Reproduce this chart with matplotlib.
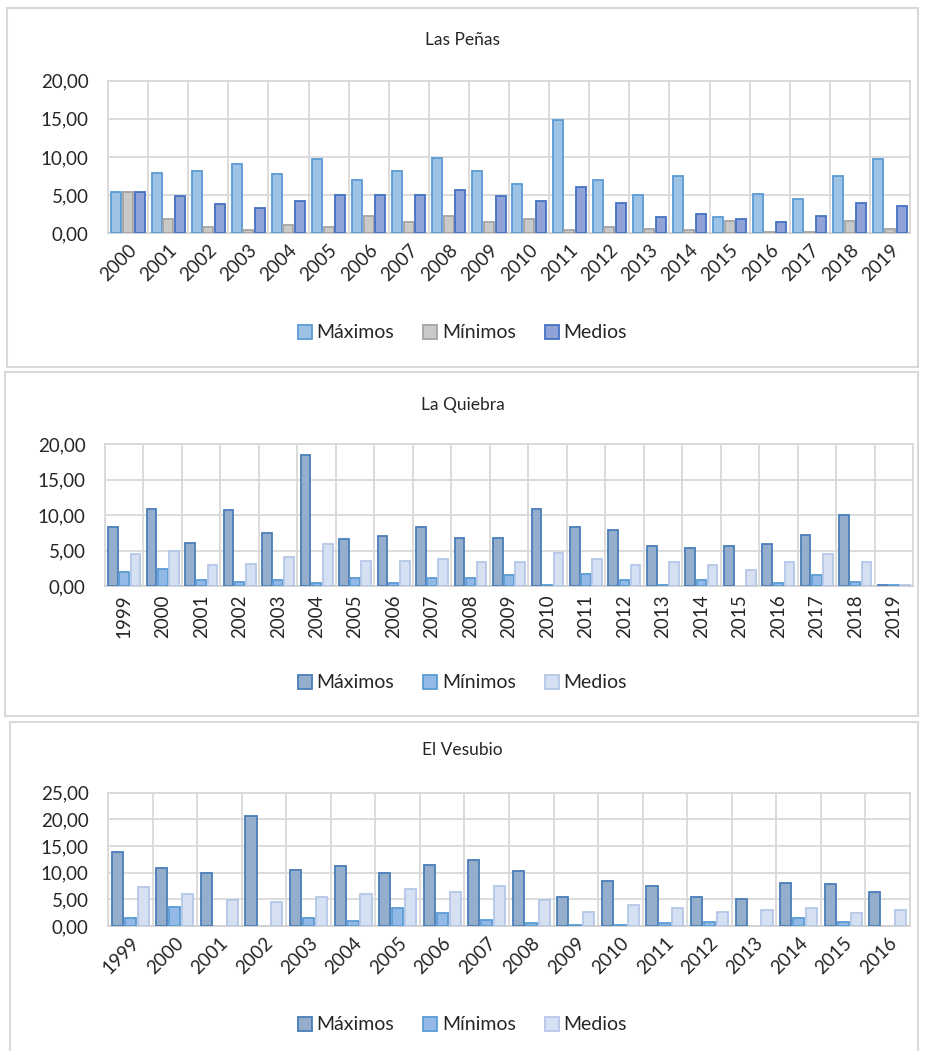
import matplotlib
matplotlib.use("Agg")
import matplotlib.pyplot as plt
import numpy as np
from matplotlib.patches import Rectangle

plt.rcParams['font.family'] = ['Lato', 'DejaVu Sans']

# ---------------- Data ----------------
series_names = ["Máximos", "Mínimos", "Medios"]

penas_years = [str(y) for y in range(2000, 2020)]
penas_max = [5.43, 7.96, 8.2, 9.04, 7.78, 9.7, 6.96, 8.2, 9.9, 8.2,
             6.5, 14.8, 6.96, 5.04, 7.57, 2.09, 5.2, 4.43, 7.57, 9.7]
penas_min = [5.43, 1.87, 0.78, 0.39, 1.04, 0.83, 2.3, 1.43, 2.3, 1.43,
             1.87, 0.39, 0.83, 0.6, 0.39, 1.65, 0.2, 0.2, 1.65, 0.6]
penas_med = [5.43, 4.87, 3.78, 3.35, 4.17, 5.04, 5.04, 5.04, 5.65, 4.87,
             4.2, 6.09, 4.0, 2.09, 2.52, 1.87, 1.43, 2.3, 4.0, 3.57]

quiebra_years = [str(y) for y in range(1999, 2020)]
quiebra_max = [8.38, 10.87, 6.07, 10.68, 7.48, 18.5, 6.59, 7.06, 8.38, 6.82,
               6.82, 10.9, 8.38, 7.95, 5.65, 5.41, 5.65, 5.88, 7.25, 9.98, 0.2]
quiebra_min = [1.98, 2.45, 0.85, 0.61, 0.85, 0.38, 1.08, 0.38, 1.08, 1.08,
               1.5, 0.19, 1.74, 0.85, 0.19, 0.85, 0.0, 0.38, 1.5, 0.61, 0.19]
quiebra_med = [4.52, 4.94, 2.92, 3.15, 4.05, 5.88, 3.58, 3.58, 3.81, 3.34,
               3.34, 4.7, 3.81, 2.92, 3.34, 2.92, 2.2, 3.34, 4.47, 3.34, 0.15]

vesubio_years = [str(y) for y in range(1999, 2017)]
vesubio_max = [13.9, 10.9, 9.94, 20.6, 10.56, 11.2, 9.94, 11.4, 12.4, 10.25,
               5.4, 8.44, 7.5, 5.4, 5.06, 8.1, 7.8, 6.3]
vesubio_min = [1.5, 3.56, 0.0, 0.0, 1.5, 0.88, 3.3, 2.4, 1.12, 0.5,
               0.25, 0.25, 0.5, 0.8, 0.0, 1.44, 0.8, 0.0]
vesubio_med = [7.25, 6.0, 4.8, 4.5, 5.44, 6.0, 6.94, 6.3, 7.5, 4.8,
               2.7, 3.9, 3.3, 2.7, 3.0, 3.3, 2.4, 3.0]

# ---------------- Figure ----------------
W, H = 925, 1051
fig = plt.figure(figsize=(W / 100, H / 100), dpi=100)

def px_rect(x0, y0, x1, y1):
    return [x0 / W, 1 - y1 / H, (x1 - x0) / W, (y1 - y0) / H]

# panel borders
for (x0, y0, x1, y1) in [(7, 8, 918, 367), (5, 372, 918, 716), (10, 722, 918, 1060)]:
    fig.patches.append(Rectangle((x0 / W, 1 - y1 / H), (x1 - x0) / W, (y1 - y0) / H,
                                 transform=fig.transFigure, fill=False,
                                 edgecolor="#D9D9D9", linewidth=1.5, zorder=0))

style1 = [("#9DC3E6", "#5B9BD5"), ("#C9C9C9", "#A5A5A5"), ("#8FA3D6", "#4472C4")]
style2 = [("#94AECB", "#4A7EBB"), ("#93BAE6", "#5B9BD5"), ("#D5E1F2", "#B4C7E7")]

grid_c = "#D9D9D9"
text_c = "#262626"

def panel(rect, title, title_y, years, data, styles, ymax, rot, legend_y):
    ax = fig.add_axes(px_rect(*rect))
    n = len(years)
    x = np.arange(n)
    bw = 0.25
    offs = [-0.29, 0.0, 0.29]
    handles = []
    for vals, (fc, ec), off, name in zip(data, styles, offs, series_names):
        vals = np.asarray(vals, dtype=float)
        lws = [1.3 if v > 0 else 0.0 for v in vals]
        b = ax.bar(x + off, vals, width=bw, color=fc, edgecolor=ec, linewidth=lws,
                   label=name, zorder=3)
        handles.append(Rectangle((0, 0), 1, 1, facecolor=fc, edgecolor=ec, linewidth=1.3))
    ax.set_xlim(-0.5, n - 0.5)
    ax.set_ylim(0, ymax)
    ticks = np.arange(0, ymax + 0.01, 5)
    ax.set_yticks(ticks)
    ax.set_yticklabels([f"{v:.2f}".replace(".", ",") for v in ticks],
                       fontsize=13.5, color=text_c)
    ax.set_xticks(x)
    if rot == 90:
        ax.set_xticklabels(years, rotation=90, fontsize=13.5, color=text_c, va="top", ha="center")
    else:
        ax.set_xticklabels(years, rotation=45, fontsize=13.5, color=text_c, ha="right",
                           rotation_mode="anchor")
    ax.tick_params(axis="both", length=0, pad=6)
    ax.tick_params(axis="y", pad=14)
    for gx in np.arange(-0.5, n, 1.0):
        ax.axvline(gx, color=grid_c, linewidth=1.3, zorder=1)
    ax.yaxis.grid(True, color=grid_c, linewidth=1.3, zorder=1)
    ax.set_axisbelow(True)
    for s in ax.spines.values():
        s.set_color(grid_c)
        s.set_linewidth(1.3)
    ax.spines["bottom"].set_color("#D0D0D0")
    fig.text(0.5, 1 - title_y / H, title, ha="center", va="center", fontsize=12.5, color=text_c)
    fig.legend(handles=handles, labels=series_names, loc="center",
               bbox_to_anchor=(0.5, 1 - legend_y / H), ncol=3, frameon=False,
               fontsize=14, handlelength=0.7, handleheight=0.7, handletextpad=0.25,
               columnspacing=1.5, labelcolor=text_c)
    return ax

panel((108, 80.7, 910, 233.3), "Las Peñas", 40, penas_years,
      [penas_max, penas_min, penas_med], style1, 20, 45, 333)
panel((105, 444.3, 913, 586), "La Quiebra", 405, quiebra_years,
      [quiebra_max, quiebra_min, quiebra_med], style2, 20, 90, 683)
panel((108, 792.7, 910, 926), "El Vesubio", 750, vesubio_years,
      [vesubio_max, vesubio_min, vesubio_med], style2, 25, 45, 1025)

fig.savefig("out.png", dpi=100, facecolor="white")
